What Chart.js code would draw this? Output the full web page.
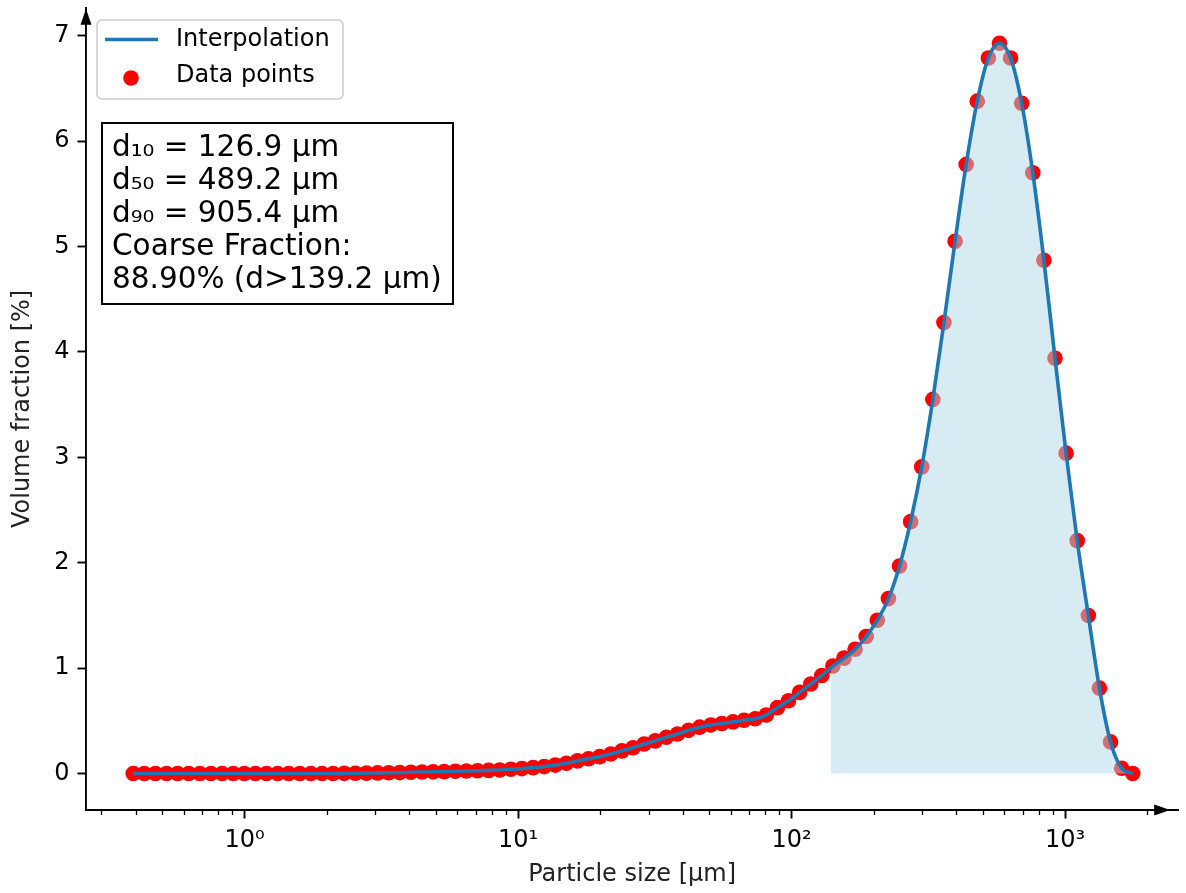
<!DOCTYPE html>
<html>
<head>
<meta charset="utf-8">
<script src="https://cdn.jsdelivr.net/npm/chart.js@4.4.1/dist/chart.umd.min.js"></script>
<style>
  html, body { margin: 0; padding: 0; background: #fff; }
  #wrap { width: 1186px; height: 893px; }
</style>
</head>
<body>
<div id="wrap"><canvas id="psd" width="1186" height="893"></canvas></div>
<script>
// particle size classes [µm] and measured volume fraction [%]
const particleSizes = [
  0.392, 0.4304, 0.4726, 0.5189, 0.5697, 0.6256, 0.6869, 0.7542, 0.8281, 0.9092, 0.9983,
  1.096, 1.204, 1.322, 1.451, 1.593, 1.749, 1.921, 2.109, 2.316, 2.543,
  2.792, 3.065, 3.366, 3.695, 4.058, 4.455, 4.892, 5.371, 5.897, 6.475,
  7.110, 7.807, 8.572, 9.412, 10.33, 11.35, 12.46, 13.68, 15.02, 16.49,
  18.11, 19.88, 21.83, 23.97, 26.32, 28.90, 31.73, 34.84, 38.25, 42.00,
  46.12, 50.64, 55.60, 61.05, 67.03, 73.60, 80.81, 88.73, 97.42, 107.0,
  117.5, 129.0, 141.6, 155.5, 170.7, 187.4, 205.8, 226.0, 248.1, 272.4,
  299.1, 328.4, 360.6, 396.0, 434.8, 477.4, 524.2, 575.5, 631.9, 693.9,
  761.9, 836.5, 918.5, 1008, 1107, 1216, 1335, 1466, 1610, 1767
];
const volumeFraction = [
  0, 0, 0, 0, 0, 0, 0, 0, 0, 0, 0,
  0, 0, 0, 0, 0, 0, 0, 0.001, 0.002, 0.003,
  0.004, 0.006, 0.007, 0.009, 0.012, 0.014, 0.016, 0.018, 0.021, 0.024,
  0.027, 0.030, 0.034, 0.040, 0.047, 0.056, 0.066, 0.080, 0.097, 0.12,
  0.14, 0.16, 0.185, 0.215, 0.245, 0.28, 0.31, 0.345, 0.375, 0.41,
  0.44, 0.46, 0.475, 0.49, 0.505, 0.52, 0.555, 0.625, 0.69, 0.77,
  0.85, 0.93, 1.02, 1.095, 1.18, 1.30, 1.455, 1.66, 1.97, 2.39,
  2.91, 3.55, 4.28, 5.05, 5.78, 6.38, 6.79, 6.93, 6.79, 6.36,
  5.70, 4.87, 3.94, 3.04, 2.21, 1.50, 0.81, 0.30, 0.05, 0.0
];

const coarseCut = 139.2;       // µm, start of shaded coarse fraction
const coarseCutValue = 1.0;    // curve height at the cut
const xTickValues = [1, 10, 100, 1000];
const yTickValues = [0, 1, 2, 3, 4, 5, 6, 7];
const legendLabels = ['Interpolation', 'Data points'];
const statsLines = [
  'd\u2081\u2080 = 126.9 µm',
  'd\u2085\u2080 = 489.2 µm',
  'd\u2089\u2080 = 905.4 µm',
  'Coarse Fraction:',
  '88.90% (d>139.2 µm)'
];

const FONT = '"DejaVu Sans", "Liberation Sans", sans-serif';
const sup = ['\u2070', '\u00b9', '\u00b2', '\u00b3'];

const points = particleSizes.map((x, i) => ({ x: x, y: volumeFraction[i] }));
const coarsePoints = [{ x: coarseCut, y: coarseCutValue }]
  .concat(points.filter(p => p.x >= coarseCut));

// minor log ticks, arrows, legend box and stats box
const decorations = {
  id: 'decorations',
  afterDraw(chart) {
    const ctx = chart.ctx;
    const area = chart.chartArea;
    const xs = chart.scales.x;
    ctx.save();

    // minor ticks on the log axis
    ctx.strokeStyle = '#000';
    ctx.lineWidth = 1.3;
    [0.1, 1, 10, 100, 1000].forEach(d => {
      for (let m = 2; m <= 9; m++) {
        const v = d * m;
        if (v < xs.min || v > xs.max) continue;
        const px = Math.round(xs.getPixelForValue(v)) + 0.5;
        ctx.beginPath();
        ctx.moveTo(px, area.bottom);
        ctx.lineTo(px, area.bottom + 5);
        ctx.stroke();
      }
    });

    // axis arrows
    ctx.fillStyle = '#000';
    ctx.beginPath();
    ctx.moveTo(area.left, area.top + 1);
    ctx.lineTo(area.left - 5.5, area.top + 17);
    ctx.lineTo(area.left + 5.5, area.top + 17);
    ctx.closePath();
    ctx.fill();
    ctx.beginPath();
    ctx.moveTo(area.right - 8, area.bottom);
    ctx.lineTo(area.right - 24, area.bottom - 5.5);
    ctx.lineTo(area.right - 24, area.bottom + 5.5);
    ctx.closePath();
    ctx.fill();

    // legend
    ctx.fillStyle = 'rgba(255,255,255,0.8)';
    ctx.strokeStyle = '#cccccc';
    ctx.lineWidth = 1.5;
    ctx.beginPath();
    ctx.roundRect(97, 20, 246, 79, 5);
    ctx.fill();
    ctx.stroke();
    ctx.strokeStyle = '#1f77b4';
    ctx.lineWidth = 3.6;
    ctx.beginPath();
    ctx.moveTo(105, 39.5);
    ctx.lineTo(158, 39.5);
    ctx.stroke();
    ctx.fillStyle = 'red';
    ctx.beginPath();
    ctx.arc(131, 78, 7.8, 0, Math.PI * 2);
    ctx.fill();
    ctx.fillStyle = '#000';
    ctx.font = '24px ' + FONT;
    ctx.textBaseline = 'middle';
    ctx.textAlign = 'left';
    ctx.fillText(legendLabels[0], 176, 40);
    ctx.fillText(legendLabels[1], 176, 76);

    // stats box
    ctx.font = '29.5px ' + FONT;
    ctx.fillStyle = '#fff';
    ctx.strokeStyle = '#000';
    ctx.lineWidth = 2;
    ctx.fillRect(102, 123, 351, 181);
    ctx.strokeRect(102, 123, 351, 181);
    ctx.fillStyle = '#000';
    ctx.textBaseline = 'alphabetic';
    statsLines.forEach((t, i) => ctx.fillText(t, 112, 156 + i * 33.1));

    ctx.restore();
  }
};

new Chart(document.getElementById('psd'), {
  type: 'line',
  data: {
    datasets: [
      {
        label: legendLabels[0],
        data: points,
        borderColor: '#1f77b4',
        borderWidth: 3.6,
        pointRadius: 0,
        cubicInterpolationMode: 'monotone',
        fill: false,
        order: 0
      },
      {
        label: 'coarse',
        data: coarsePoints,
        borderColor: 'rgba(0,0,0,0)',
        borderWidth: 0,
        backgroundColor: 'rgba(173,216,230,0.5)',
        pointRadius: 0,
        cubicInterpolationMode: 'monotone',
        fill: 'origin',
        order: 1
      },
      {
        label: legendLabels[1],
        data: points,
        showLine: false,
        pointRadius: 7.8,
        pointBackgroundColor: 'red',
        pointBorderWidth: 0,
        order: 2
      }
    ]
  },
  options: {
    responsive: false,
    animation: false,
    devicePixelRatio: 1,
    layout: { padding: { top: 7, right: -2, left: 0, bottom: 0 } },
    plugins: { legend: { display: false }, tooltip: { enabled: false } },
    scales: {
      x: {
        type: 'logarithmic',
        min: 0.2634,
        max: 2591,
        afterFit: s => { s.height = 83; s.paddingLeft = 0; s.paddingRight = 0; },
        afterBuildTicks: s => { s.ticks = xTickValues.map(v => ({ value: v })); },
        grid: { drawOnChartArea: false, drawTicks: true, tickLength: 8.5, tickWidth: 1.9, tickColor: '#000' },
        border: { display: true, color: '#000', width: 1.9 },
        ticks: {
          color: '#000',
          padding: 8,
          maxRotation: 0,
          autoSkip: false,
          font: { family: FONT, size: 24 },
          callback: v => '10' + sup[Math.round(Math.log10(v))]
        },
        title: {
          display: true,
          text: 'Particle size [µm]',
          color: '#222',
          font: { family: FONT, size: 24 },
          padding: { top: 0, bottom: 4 }
        }
      },
      y: {
        type: 'linear',
        min: -0.346,
        max: 7.266,
        afterFit: s => { s.width = 86; s.paddingTop = 0; s.paddingBottom = 0; },
        afterBuildTicks: s => { s.ticks = yTickValues.map(v => ({ value: v })); },
        grid: { drawOnChartArea: false, drawTicks: true, tickLength: 8.5, tickWidth: 1.9, tickColor: '#000' },
        border: { display: true, color: '#000', width: 1.9 },
        ticks: {
          color: '#000',
          padding: 8,
          font: { family: FONT, size: 24 },
          callback: v => String(v)
        },
        title: {
          display: true,
          text: 'Volume fraction [%]',
          color: '#222',
          font: { family: FONT, size: 24 },
          padding: { top: 8.5, bottom: 0 }
        }
      }
    }
  },
  plugins: [decorations]
});
</script>
</body>
</html>
